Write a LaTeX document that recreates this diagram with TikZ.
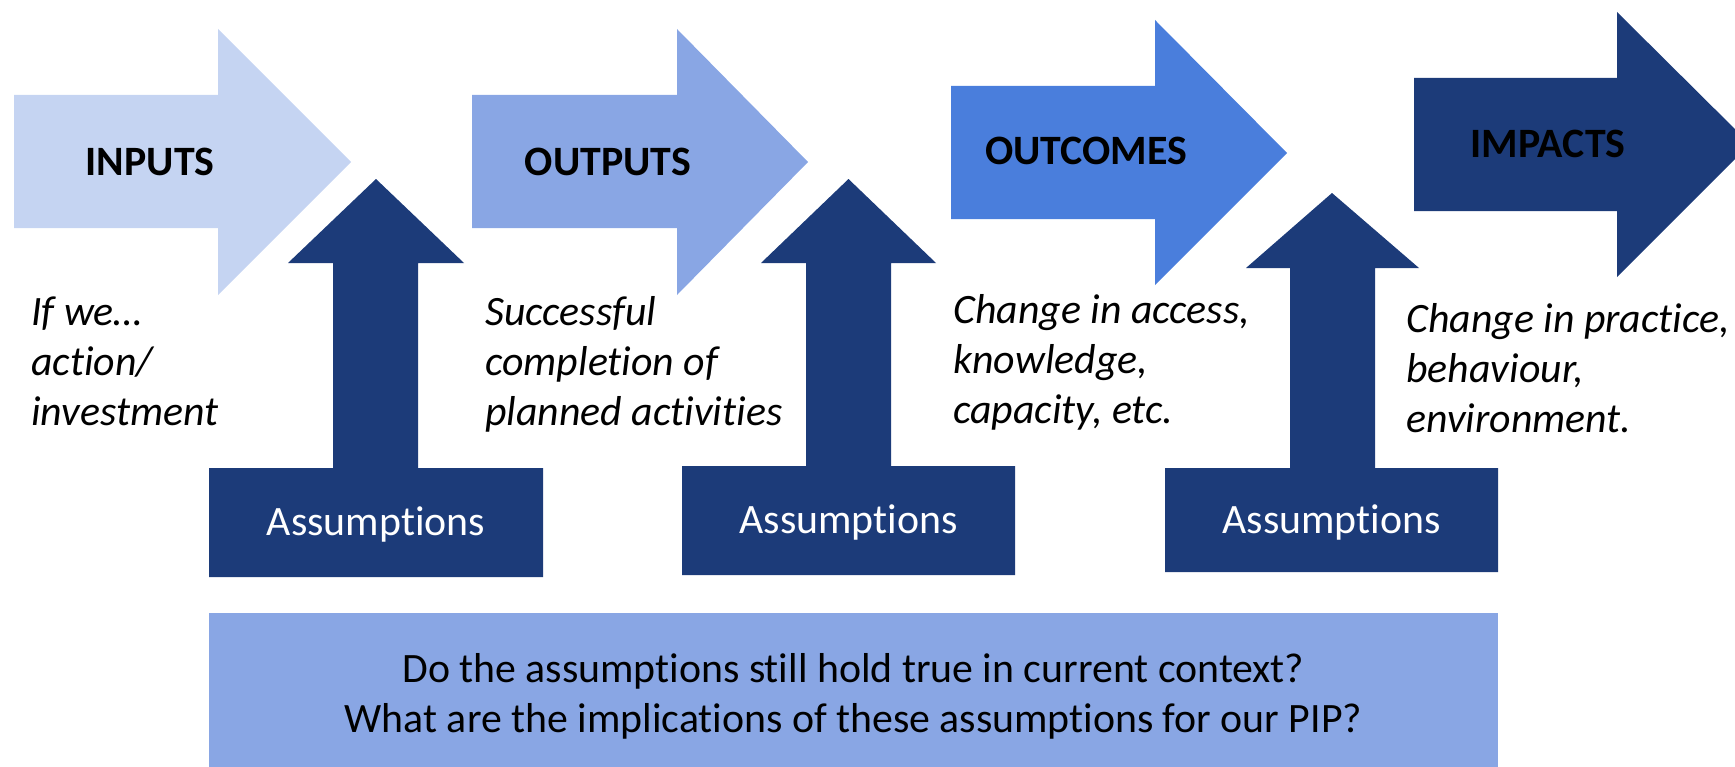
\documentclass[tikz,border=0pt]{standalone}
\usepackage{fontspec}
\setmainfont{Carlito}[RawFeature=-liga,RawFeature=-clig,RawFeature=-calt,RawFeature=-dlig]
\definecolor{inputcol}{HTML}{C5D4F2}
\definecolor{outputcol}{HTML}{89A6E4}
\definecolor{outcomecol}{HTML}{4A7EDC}
\definecolor{navy}{HTML}{1C3B79}

\begin{document}
\begin{tikzpicture}[x=0.02cm,y=-0.02cm]
    \tikzstyle{title}=[inner sep=0pt,anchor=base,font=\fontsize{23.8}{28.45}\selectfont\bfseries]
    \tikzstyle{note}=[inner sep=0pt,anchor=base west,align=left,font=\fontsize{23.8}{28.45}\selectfont\itshape]
    \tikzstyle{assume}=[inner sep=0pt,anchor=base,text=white,font=\fontsize{23.8}{28.45}\selectfont]
    \tikzstyle{question}=[inner sep=0pt,anchor=base,align=center,font=\fontsize{23.8}{28.45}\selectfont]
    \useasboundingbox (0,0) rectangle (1735,767);
    \clip (0,0) rectangle (1735,767);
    % stage arrows
    \fill[inputcol] (14,95) -- (218,95) -- (218,29) -- (351,162) -- (218,295) -- (218,228) -- (14,228) -- cycle;
    \fill[outputcol] (472,95) -- (677,95) -- (677,29) -- (808,162) -- (677,295) -- (677,228) -- (472,228) -- cycle;
    \fill[outcomecol] (951,86) -- (1155,86) -- (1155,20) -- (1287,153) -- (1155,285) -- (1155,219) -- (951,219) -- cycle;
    \fill[navy] (1414,78) -- (1617,78) -- (1617,12) -- (1750,144) -- (1617,277) -- (1617,211) -- (1414,211) -- cycle;
    % assumption arrows
    \fill[navy] (209,577) -- (209,468) -- (333,468) -- (333,263) -- (288,263) -- (376,179) -- (464,263) -- (418,263) -- (418,468) -- (543,468) -- (543,577) -- cycle;
    \fill[navy] (682,575) -- (682,466) -- (806,466) -- (806,263) -- (761,263) -- (848.5,179) -- (936,263) -- (891,263) -- (891,466) -- (1015,466) -- (1015,575) -- cycle;
    \fill[navy] (1165,572) -- (1165,468) -- (1290,468) -- (1290,268) -- (1246,268) -- (1332,193) -- (1419,268) -- (1375,268) -- (1375,468) -- (1498,468) -- (1498,572) -- cycle;
    \fill[outputcol] (209,613) rectangle (1498,770);
    \node[title] (inputs) at (150,175) {INPUTS};
    \node[title] (outputs) at (608,175) {OUTPUTS};
    \node[title] (outcomes) at (1086,165) {OUTCOMES};
    \node[title] (impacts) at (1548,157) {IMPACTS};
    \node[note] (ifwe) at (31,425) {If we…\\action/\\investment};
    \node[note] (success) at (485,425) {Successful\\completion of\\planned activities};
    \node[note] (access) at (953,423) {Change in access,\\knowledge,\\capacity, etc.};
    \node[note] (practice) at (1406,432) {Change in practice,\\behaviour,\\environment.};
    \node[assume] (assumeA) at (376,535) {Assumptions};
    \node[assume] (assumeB) at (848.5,533) {Assumptions};
    \node[assume] (assumeC) at (1331.5,533) {Assumptions};
    \node[question] (hold) at (853.5,732) {Do the assumptions still hold true in current context?\\What are the implications of these assumptions for our PIP?};
\end{tikzpicture}
\end{document}
